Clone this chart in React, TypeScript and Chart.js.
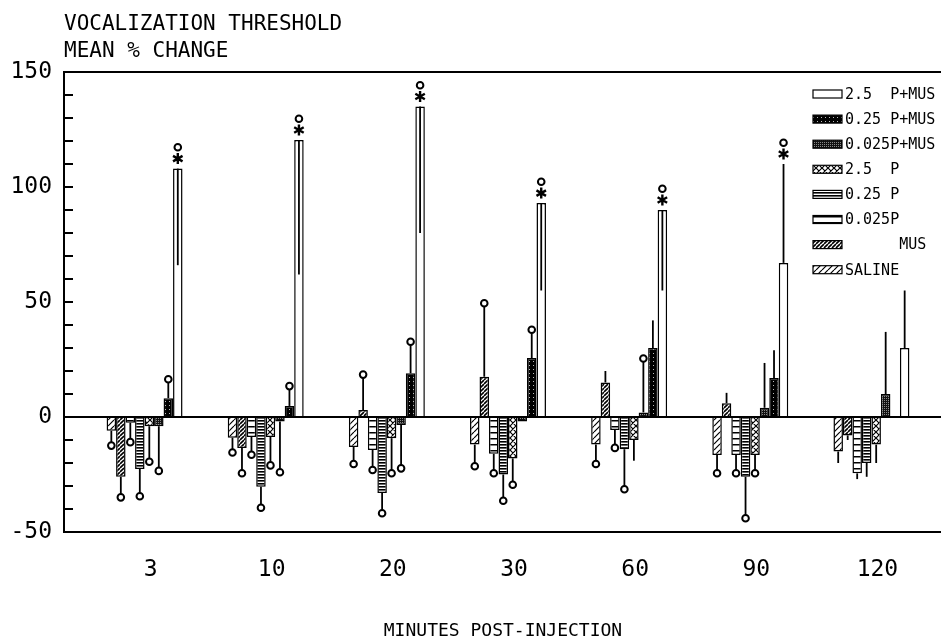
import React, { useEffect, useRef } from 'react';
import { Chart, registerables } from 'chart.js';
Chart.register(...registerables);

// ---------- data ----------
const categories = ['3', '10', '20', '30', '60', '90', '120'];
const seriesNames = ['SALINE', 'MUS', '0.025P', '0.25P', '2.5P', '0.025P+MUS', '0.25P+MUS', '2.5P+MUS'];
const legendText = ['SALINE', '      MUS', '0.025P', '0.25 P', '2.5  P', '0.025P+MUS', '0.25 P+MUS', '2.5  P+MUS'];

// mean % change
const saline = [-6, -9, -13, -12, -12, -16.5, -15];
const mus = [-26, -13.5, 3, 17.5, 15, 6, -8];
const p0025 = [-2.5, -8.7, -14.3, -16, -5.6, -16.5, -24.5];
const p025 = [-22.6, -30.3, -33, -25, -14, -26, -20];
const p25 = [-4, -8.7, -9.2, -18, -10, -16.5, -12];
const p0025mus = [-4, -2, -3.5, -2, 2, 4, 10];
const p025mus = [8.2, 4.8, 19, 25.6, 30, 17, 0];
const p25mus = [108, 120.4, 135, 93, 90, 67, 30];

// error bar end values
const salineErr = [-11, -14, -19, -20, -19, -23, -20];
const musErr = [-33.5, -23, 17, 48, 20, 10.5, -10];
const p0025Err = [-9.5, -15, -21.6, -23, -12, -23, -27];
const p025Err = [-33, -38, -40.4, -35, -30, -42.6, -26];
const p25Err = [-18, -19.6, -23, -28, -19, -23, -20];
const p0025musErr = [-22, -22.6, -20.9, -2, 24, 23.5, 37];
const p025musErr = [15, 12, 31.3, 36.5, 42, 29, 0];
const p25musErr = [66, 62, 80, 55, 55, 110, 55];

// significance circles (1 = circle drawn)
const salineSig = [1, 1, 1, 1, 1, 1, 0];
const musSig = [1, 1, 1, 1, 0, 0, 0];
const p0025Sig = [1, 1, 1, 1, 1, 1, 0];
const p025Sig = [1, 1, 1, 1, 1, 1, 0];
const p25Sig = [1, 1, 1, 1, 0, 1, 0];
const p0025musSig = [1, 1, 1, 0, 1, 0, 0];
const p025musSig = [1, 1, 1, 1, 0, 0, 0];
const p25musSig = [1, 1, 1, 1, 1, 1, 0];
// asterisks
const p25musStar = [1, 1, 1, 1, 1, 1, 0];

const yTickValues = [-50, 0, 50, 100, 150];

const seriesValues = [saline, mus, p0025, p025, p25, p0025mus, p025mus, p25mus];
const seriesErr = [salineErr, musErr, p0025Err, p025Err, p25Err, p0025musErr, p025musErr, p25musErr];
const seriesSig = [salineSig, musSig, p0025Sig, p025Sig, p25Sig, p0025musSig, p025musSig, p25musSig];
const seriesStar = [null, null, null, null, null, null, null, p25musStar];

// ---------- styles ----------
const MONO = '"DejaVu Sans Mono", "Liberation Mono", monospace';
const patternKinds = ['diag', 'diagDense', 'hlineSparse', 'hlineDense', 'cross', 'darkCheck', 'darkDots', 'white'];

function tile(w: number, h: number, draw: (g: CanvasRenderingContext2D) => void) {
  const c = document.createElement('canvas');
  c.width = w;
  c.height = h;
  const g = c.getContext('2d')!;
  draw(g);
  return c;
}

function diagTile(s: number, lw: number, both: boolean) {
  return tile(s, s, (g) => {
    g.fillStyle = '#fff';
    g.fillRect(0, 0, s, s);
    g.strokeStyle = '#000';
    g.lineWidth = lw;
    g.beginPath();
    for (let k = -1; k <= 1; k++) {
      g.moveTo(k * s, s);
      g.lineTo(k * s + s, 0);
      if (both) {
        g.moveTo(k * s, 0);
        g.lineTo(k * s + s, s);
      }
    }
    g.stroke();
  });
}

function makePattern(ctx: CanvasRenderingContext2D, kind: string): CanvasPattern | string {
  let t: HTMLCanvasElement | null = null;
  switch (kind) {
    case 'diag':
      t = diagTile(6, 1.2, false);
      break;
    case 'diagDense':
      t = diagTile(4, 1.6, false);
      break;
    case 'hlineSparse':
      t = tile(4, 6, (g) => {
        g.fillStyle = '#fff';
        g.fillRect(0, 0, 4, 6);
        g.fillStyle = '#000';
        g.fillRect(0, 0, 4, 1.5);
      });
      break;
    case 'hlineDense':
      t = tile(4, 3, (g) => {
        g.fillStyle = '#fff';
        g.fillRect(0, 0, 4, 3);
        g.fillStyle = '#000';
        g.fillRect(0, 0, 4, 1.6);
      });
      break;
    case 'cross':
      t = diagTile(6, 1.2, true);
      break;
    case 'darkCheck':
      t = tile(2, 2, (g) => {
        g.fillStyle = '#111';
        g.fillRect(0, 0, 2, 2);
        g.fillStyle = '#888';
        g.fillRect(0, 0, 1, 1);
      });
      break;
    case 'darkDots':
      t = tile(4, 4, (g) => {
        g.fillStyle = '#000';
        g.fillRect(0, 0, 4, 4);
        g.fillStyle = '#bbb';
        g.fillRect(1, 1, 1, 1);
      });
      break;
    default:
      return '#ffffff';
  }
  return ctx.createPattern(t, 'repeat') as CanvasPattern;
}

const overlayPlugin = {
  id: 'overlay',
  afterDatasetsDraw(chart: any) {
    const { ctx, chartArea, scales } = chart;
    const ys = scales.y;
    ctx.save();
    ctx.strokeStyle = '#000';
    ctx.lineCap = 'butt';
    // top frame line
    ctx.lineWidth = 2;
    ctx.beginPath();
    ctx.moveTo(chartArea.left, chartArea.top);
    ctx.lineTo(chart.width, chartArea.top);
    ctx.stroke();
    // zero line
    const y0 = ys.getPixelForValue(0);
    ctx.beginPath();
    ctx.moveTo(chartArea.left, y0);
    ctx.lineTo(chart.width, y0);
    ctx.stroke();
    // minor ticks inside
    for (let v = ys.min; v <= ys.max; v += 10) {
      const y = ys.getPixelForValue(v);
      ctx.beginPath();
      ctx.moveTo(chartArea.left, y);
      ctx.lineTo(chartArea.left + 9, y);
      ctx.stroke();
    }
    // error bars and markers
    chart.data.datasets.forEach((ds: any, i: number) => {
      const meta = chart.getDatasetMeta(i);
      const errs = seriesErr[i];
      const sig = seriesSig[i];
      const star = seriesStar[i];
      meta.data.forEach((el: any, j: number) => {
        const v = seriesValues[i][j];
        const e = errs[j];
        const x = el.x;
        const yBar = ys.getPixelForValue(v);
        const yErr = ys.getPixelForValue(e);
        ctx.lineWidth = 1.8;
        if (e !== v) {
          ctx.beginPath();
          ctx.moveTo(x, yBar);
          ctx.lineTo(x, yErr);
          ctx.stroke();
        }
        const up = v >= 0;
        const yOut = up ? Math.min(yBar, yErr) : Math.max(yBar, yErr);
        let yc = yOut;
        if (star && star[j]) {
          const sy = yOut - 10;
          ctx.lineWidth = 2.4;
          ctx.beginPath();
          for (let a = 0; a < 3; a++) {
            const ang = (Math.PI / 3) * a + Math.PI / 2;
            ctx.moveTo(x - Math.cos(ang) * 5.5, sy - Math.sin(ang) * 5.5);
            ctx.lineTo(x + Math.cos(ang) * 5.5, sy + Math.sin(ang) * 5.5);
          }
          ctx.stroke();
          yc = sy - 8;
        }
        if (sig[j]) {
          const r = 3.3;
          const cy = up ? yc - r : yc + r;
          ctx.lineWidth = 2;
          ctx.fillStyle = '#fff';
          ctx.beginPath();
          ctx.arc(x, cy, r, 0, Math.PI * 2);
          ctx.fill();
          ctx.stroke();
        }
      });
    });
    // legend (reverse order, top to bottom)
    const lx = 813;
    let ly = 94;
    ctx.font = `15px ${MONO}`;
    ctx.textBaseline = 'middle';
    ctx.textAlign = 'left';
    for (let i = chart.data.datasets.length - 1; i >= 0; i--) {
      const ds = chart.data.datasets[i];
      ctx.fillStyle = ds.backgroundColor;
      ctx.fillRect(lx, ly - 4, 29, 8);
      ctx.lineWidth = 1.2;
      ctx.strokeStyle = '#000';
      ctx.strokeRect(lx, ly - 4, 29, 8);
      ctx.fillStyle = '#000';
      ctx.fillText(legendText[i], lx + 32, ly + 1);
      ly += 25.1;
    }
    ctx.restore();
  },
};

export default function App() {
  const ref = useRef<HTMLCanvasElement>(null);
  useEffect(() => {
    const canvas = ref.current!;
    const ctx = canvas.getContext('2d')!;
    const datasets = seriesNames.map((name, i) => ({
      label: name,
      data: seriesValues[i].map((v, j) => ({ x: j, y: v })),
      backgroundColor: makePattern(ctx, patternKinds[i]),
      borderColor: '#000',
      borderWidth: 1.5,
      categoryPercentage: 0.627,
      barPercentage: 1.0,
    }));
    const tickFont = { family: MONO, size: 23 };
    const chart = new Chart(canvas, {
      type: 'bar',
      data: { datasets } as any,
      options: {
        animation: false,
        responsive: false,
        maintainAspectRatio: false,
        events: [],
        layout: { padding: { top: 72, right: 1, left: 0, bottom: 0 } },
        plugins: { legend: { display: false }, tooltip: { enabled: false }, title: { display: false } },
        scales: {
          x: {
            type: 'linear',
            offset: false,
            min: -0.665,
            max: 6.566,
            grid: { display: false, drawTicks: false },
            border: { display: true, color: '#000', width: 2 },
            afterBuildTicks: (s: any) => {
              s.ticks = categories.map((_, i) => ({ value: i }));
            },
            ticks: {
              autoSkip: false,
              maxRotation: 0,
              font: tickFont,
              color: '#000',
              padding: 24,
              labelOffset: 6,
              callback: (v: any) => categories[Math.round(v)] ?? '',
            },
            afterFit: (s: any) => {
              s.height = 111;
            },
          },
          y: {
            min: -50,
            max: 150,
            grid: { display: false, drawTicks: false },
            border: { display: true, color: '#000', width: 2 },
            afterBuildTicks: (s: any) => {
              s.ticks = yTickValues.map((v) => ({ value: v }));
            },
            ticks: { font: tickFont, color: '#000', padding: 12 },
            afterFit: (s: any) => {
              s.width = 64;
            },
          },
        } as any,
      },
      plugins: [overlayPlugin],
    });
    return () => chart.destroy();
  }, []);

  const textStyle: React.CSSProperties = {
    position: 'absolute',
    fontFamily: MONO,
    color: '#000',
    whiteSpace: 'pre',
    lineHeight: 1,
    margin: 0,
  };
  return (
    <div style={{ position: 'fixed', left: 0, top: 0, width: 941, height: 643, background: '#fff' }}>
      <canvas ref={ref} width={941} height={643} style={{ position: 'absolute', left: 0, top: 0 }} />
      <div style={{ ...textStyle, left: 64, top: 13, fontSize: 21 }}>VOCALIZATION THRESHOLD</div>
      <div style={{ ...textStyle, left: 64, top: 40, fontSize: 21 }}>MEAN % CHANGE</div>
      <div style={{ ...textStyle, left: 0, width: 1006, textAlign: 'center', top: 621, fontSize: 18 }}>MINUTES POST-INJECTION</div>
    </div>
  );
}
